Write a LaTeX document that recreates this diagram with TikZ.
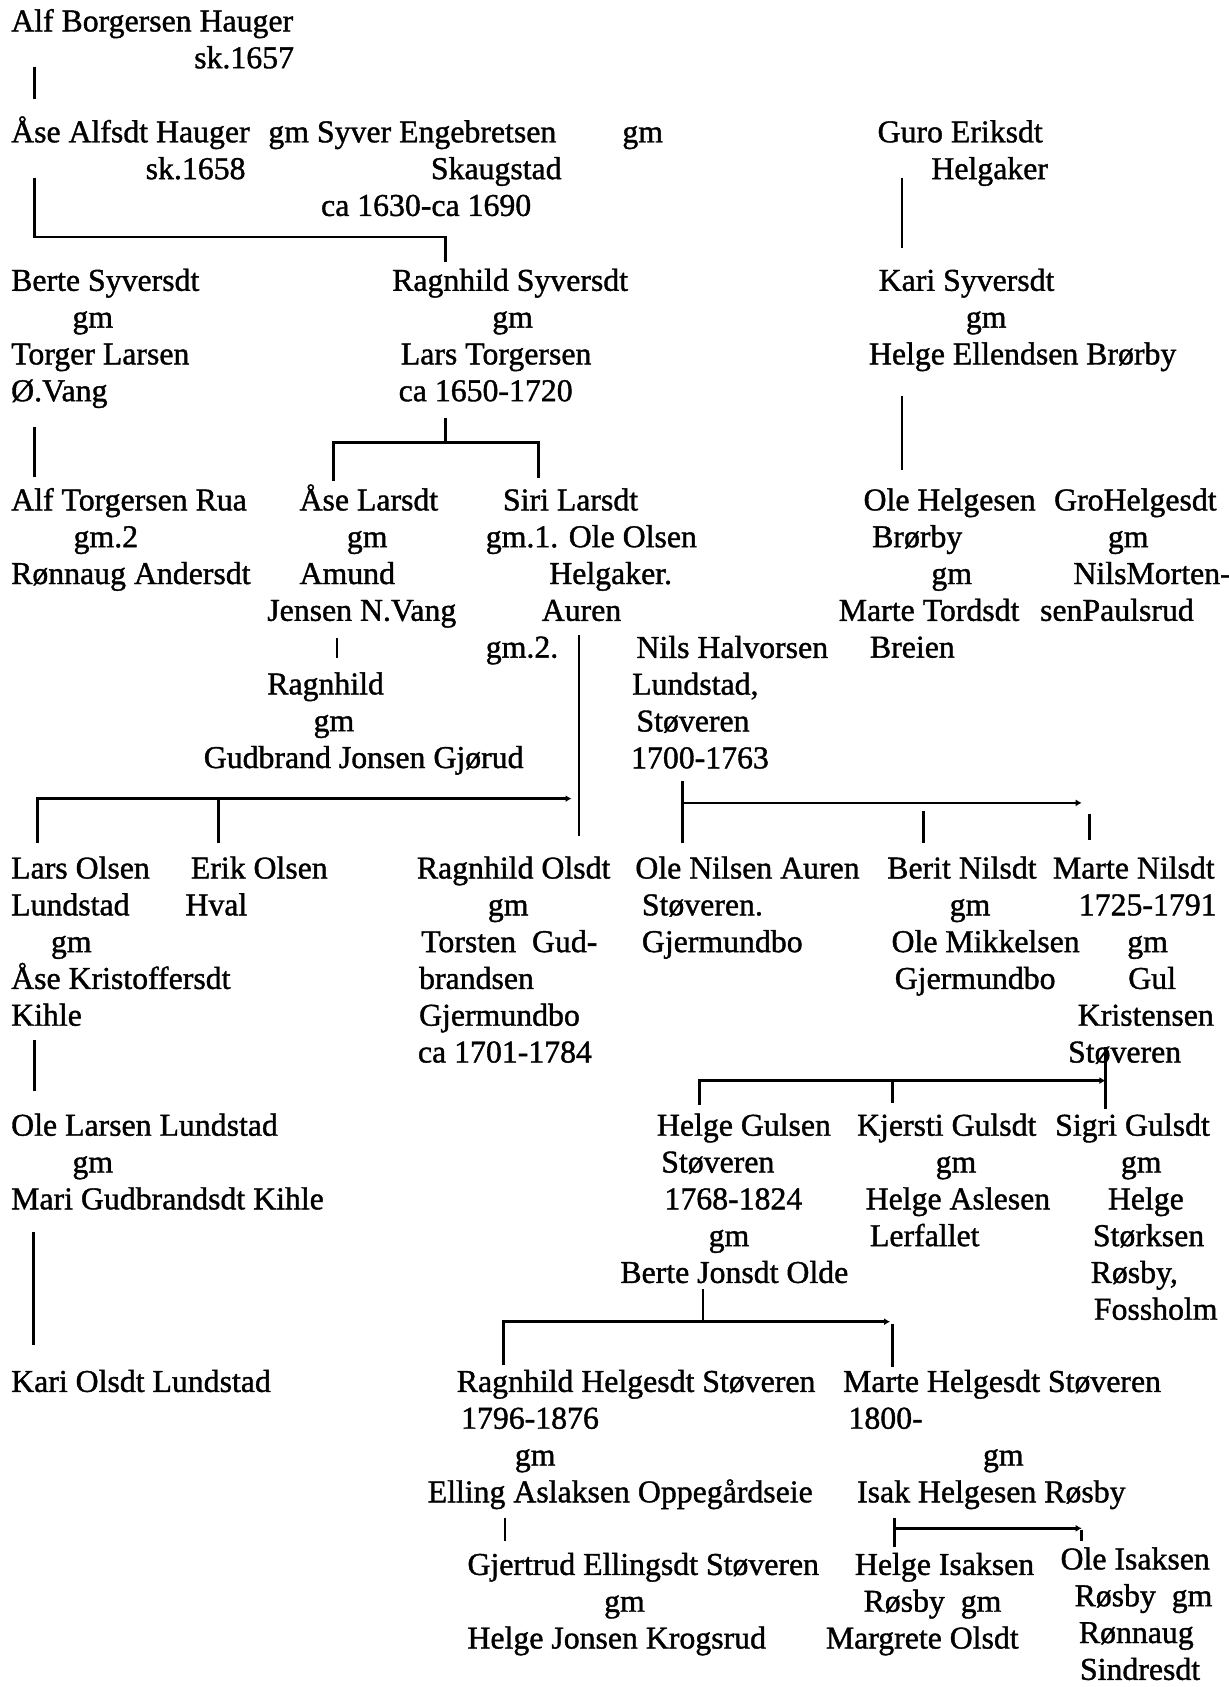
\documentclass[tikz,border=0pt]{standalone}
\usepackage{fontspec}
\setmainfont{Liberation Serif}
\newfontfamily\scanfont{Liberation Serif}[FakeBold=1.2]
\usetikzlibrary{arrows.meta}
\newlength{\pxu}\setlength{\pxu}{0.5pt}
\newcommand{\ind}[1]{\hspace*{#1\pxu}}
\newcommand{\capline}{\rule{0pt}{17pt}}

\begin{document}
\begin{tikzpicture}[
  x=0.5pt, y=-0.5pt,
  person/.style={anchor=north west, inner sep=0pt, align=left, yshift=-1pt,
    font=\scanfont\fontsize{15.9}{18.4}\selectfont},
  kin/.style={line width=1.3pt, line join=miter},
  kintip/.style={kin, -{Latex[length=3pt,width=3.5pt]}}
]
\useasboundingbox (0,0) rectangle (1228,1687);

% generation 1-2
\node[person] (alf) at (10.8,-5) {\capline Alf Borgersen Hauger\\\ind{183}sk.1657};
\node[person] (aase) at (10.8,105.9) {\capline Åse Alfsdt Hauger\\\ind{134.5}sk.1658};
\node[person] (syver) at (268,105.9) {\capline gm Syver Engebretsen\\\ind{162.5}Skaugstad\\\ind{52.7}ca 1630-ca 1690};
\node[person] (gmguro) at (622,105.9) {\capline gm};
\node[person] (guro) at (877.2,105.9) {\capline Guro Eriksdt\\\ind{53.8}Helgaker};

% children of Syver
\node[person] (berte) at (10.8,254.4) {\capline Berte Syversdt\\\ind{61.3}gm\\Torger Larsen\\Ø.Vang};
\node[person] (ragnS) at (391.8,254.4) {\capline Ragnhild Syversdt\\\ind{100.1}gm\\\ind{8.6}Lars Torgersen\\\ind{6.5}ca 1650-1720};
\node[person] (kari) at (868.6,254.4) {\capline\ind{9.7}Kari Syversdt\\\ind{96.9}gm\\Helge Ellendsen Brørby};

% grandchildren
\node[person] (alfT) at (10.8,474) {\capline Alf Torgersen Rua\\\ind{62.4}gm.2\\Rønnaug Andersdt};
\node[person] (aaseL) at (266.9,474) {\capline\ind{32.3}Åse Larsdt\\\ind{79.6}gm\\\ind{32.3}Amund\\Jensen N.Vang};
\node[person] (siri) at (485.4,474) {\capline\ind{17.2}Siri Larsdt\\gm.1. Ole Olsen\\\ind{63.5}Helgaker.\\\ind{56}Auren\\gm.2.};
\node[person] (oleH) at (838.4,474) {\capline\ind{24.8}Ole Helgesen\\\ind{33.4}Brørby\\\ind{92.6}gm\\Marte Tordsdt\\\ind{31.2}Breien};
\node[person] (gro) at (1039.7,474) {\capline\ind{14}GroHelgesdt\\\ind{67.8}gm\\\ind{33.4}NilsMorten-\\senPaulsrud};
\node[person] (ragnA) at (203.4,658) {\capline\ind{63.5}Ragnhild\\\ind{109.8}gm\\Gudbrand Jonsen Gjørud};
\node[person] (nils) at (630.7,621.5) {\capline\ind{5.4}Nils Halvorsen\\\ind{1.1}Lundstad,\\\ind{5.4}Støveren\\1700-1763};

% children of Siri and Nils
\node[person] (larsO) at (10.8,842.1) {\capline Lars Olsen\\Lundstad\\\ind{39.8}gm\\Åse Kristoffersdt\\Kihle};
\node[person] (erik) at (185.1,842.1) {\capline\ind{5.4}Erik Olsen\\Hval};
\node[person] (ragnO) at (416.5,842.1) {\capline Ragnhild Olsdt\\\ind{71}gm\\\ind{4.3}Torsten\ \ Gud-\\\ind{2.2}brandsen\\\ind{2.2}Gjermundbo\\\ind{1.1}ca 1701-1784};
\node[person] (oleN) at (635,842.1) {\capline Ole Nilsen Auren\\\ind{6.5}Støveren.\\\ind{6.5}Gjermundbo};
\node[person] (berit) at (886.9,842.1) {\capline Berit Nilsdt\\\ind{62.4}gm\\\ind{4.3}Ole Mikkelsen\\\ind{7.5}Gjermundbo};
\node[person] (marteN) at (1052.6,842.1) {\capline Marte Nilsdt\\\ind{25.8}1725-1791\\\ind{74.3}gm\\\ind{75.3}Gul\\\ind{24.8}Kristensen\\\ind{15.1}Støveren};

% next generation
\node[person] (oleL) at (10.8,1099.3) {\capline Ole Larsen Lundstad\\\ind{61.3}gm\\Mari Gudbrandsdt Kihle};
\node[person] (helgeG) at (620,1099.3) {\capline\ind{36.6}Helge Gulsen\\\ind{40.9}Støveren\\\ind{44.1}1768-1824\\\ind{88.3}gm\\Berte Jonsdt Olde};
\node[person] (kjersti) at (856.7,1099.3) {\capline Kjersti Gulsdt\\\ind{78.6}gm\\\ind{8.6}Helge Aslesen\\\ind{12.9}Lerfallet};
\node[person] (sigri) at (1054.8,1099.3) {\capline Sigri Gulsdt\\\ind{65.7}gm\\\ind{52.7}Helge\\\ind{37.7}Størksen\\\ind{35.5}Røsby,\\\ind{38.7}Fossholm};

\node[person] (kariO) at (10.8,1355.5) {\capline Kari Olsdt Lundstad};
\node[person] (ragnH) at (427.3,1355.5) {\capline\ind{29.1}Ragnhild Helgesdt Støveren\\\ind{33.4}1796-1876\\\ind{87.2}gm\\Elling Aslaksen Oppegårdseie};
\node[person] (marteH) at (842.7,1355.5) {\capline Marte Helgesdt Støveren\\\ind{5.4}1800-\\\ind{139.9}gm\\\ind{14}Isak Helgesen Røsby};

\node[person] (gjertrud) at (467.1,1538.5) {\capline Gjertrud Ellingsdt Støveren\\\ind{136.7}gm\\Helge Jonsen Krogsrud};
\node[person] (helgeI) at (825.5,1538.5) {\capline\ind{29.1}Helge Isaksen\\\ind{37.7}Røsby\ \ gm\\Margrete Olsdt};
\node[person] (oleI) at (1060.2,1533) {\capline Ole Isaksen\\\ind{14}Røsby\ \ gm\\\ind{18.3}Rønnaug\\\ind{19.4}Sindresdt};

% single lines of descent
\foreach \x/\a/\b in {34.4/66.7/99, 902/177.6/247.5, 902/396/470.3, 34.4/427.3/476.8,
    336.9/638.2/657.6, 579/635/836.3, 218.5/798.6/842.8, 34.4/1039.7/1091.4,
    33.4/1232.4/1345.4, 445.6/417.6/442.4, 682.4/781.4/842.8, 923.5/810.5/842.8,
    1089.2/813.7/839.5, 1105.4/1047.2/1108.6, 892.3/1080.6/1103.2, 702.8/1289.4/1321.7,
    892.3/1324/1366.9, 504.8/1517.6/1541.3, 894.4/1517.6/1546.6, 1081.7/1530/1541.3}
  \draw[kin] (\x,\a) -- (\x,\b);

% sibling bars
\draw[kin] (34.4,177.6) |- (445.6,236.8) -- (445.6,261.5);
\draw[kin] (333.7,481.1) |- (538.2,442.4) -- (538.2,477.9);
\draw[kintip] (37.7,842.8) |- (571.5,798.6);
\draw[kintip] (682.4,802.9) -- (1081.7,802.9);
\draw[kintip] (699.6,1105.4) |- (1105.4,1080.6);
\draw[kintip] (503.7,1364.7) |- (890.1,1321.7);
\draw[kintip] (894.4,1528.3) -- (1081.7,1528.3);
\end{tikzpicture}
\end{document}
